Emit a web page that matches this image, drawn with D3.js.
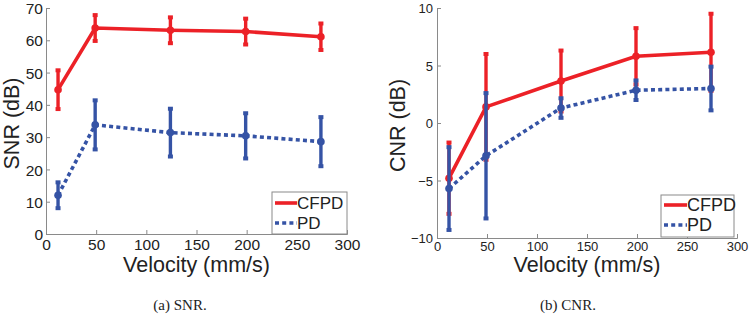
<!DOCTYPE html>
<html>
<head>
<meta charset="utf-8">
<script src="https://cdn.jsdelivr.net/npm/d3@7"></script>
<style>
  body { margin: 0; background: #fff; }
  text { font-family: "Liberation Sans", Arial, sans-serif; fill: #222; }
  text.caption { font-family: "Liberation Serif", "Times New Roman", serif; }
</style>
</head>
<body>
<div id="chart"></div>
<script>
// velocities (mm/s)
const velocity = [12, 49, 124, 199, 274];

// SNR (dB)
const snrCFPD = [44.7, 63.8, 63.1, 62.7, 61.1];
const snrCFPDErr = [6.0, 4.0, 4.0, 4.0, 4.1];
const snrPD = [12.0, 33.8, 31.4, 30.4, 28.6];
const snrPDErr = [4.0, 7.6, 7.4, 7.0, 7.6];

// CNR (dB)
const cnrCFPD = [-4.8, 1.4, 3.65, 5.8, 6.15];
const cnrCFPDErr = [3.1, 4.6, 2.65, 2.45, 3.35];
const cnrPD = [-5.7, -2.85, 1.3, 2.85, 3.0];
const cnrPDErr = [3.6, 5.45, 0.85, 0.85, 1.9];

const xTicks = [0, 50, 100, 150, 200, 250, 300];
const snrTicks = [0, 10, 20, 30, 40, 50, 60, 70];
const cnrTicks = [-10, -5, 0, 5, 10];

const red = "#ec2127";
const blue = "#3553a5";

const svg = d3.select("#chart")
    .append("svg")
    .attr("width", 750)
    .attr("height", 314);

function drawPanel(opts) {
    const xScale = d3.scaleLinear().domain([0, 300]).range([opts.left, opts.right]);
    const yScale = d3.scaleLinear().domain(opts.yDomain).range([opts.bottom, opts.top]);

    const g = svg.append("g");

    // axes
    const xAxis = d3.axisBottom(xScale).tickValues(xTicks).tickSize(-4).tickPadding(opts.xPad);
    const xg = g.append("g")
        .attr("transform", `translate(0,${opts.bottom})`)
        .call(xAxis);
    const yAxis = d3.axisLeft(yScale).tickValues(opts.yTicks).tickSize(-4).tickPadding(opts.yPad)
        .tickFormat(d => d < 0 ? "\u2212" + Math.abs(d) : d);
    const yg = g.append("g")
        .attr("transform", `translate(${opts.left},0)`)
        .call(yAxis);
    [xg, yg].forEach(a => {
        a.attr("font-family", null);
        a.select(".domain").attr("stroke", "#8a8a8a");
        a.selectAll(".tick line").attr("stroke", "#8a8a8a");
        a.selectAll(".tick text").attr("font-size", opts.tickFont).attr("fill", "#222");
    });
    xg.selectAll(".tick text").attr("dy", "0.72em");
    yg.selectAll(".tick text").attr("dy", "0.36em");

    // axis labels
    g.append("text")
        .attr("x", (opts.left + opts.right) / 2 + opts.xLabelShift)
        .attr("y", 272)
        .attr("text-anchor", "middle")
        .attr("font-size", 21.5)
        .text("Velocity (mm/s)");
    g.append("text")
        .attr("transform", `translate(${opts.yLabelX},${opts.yLabelY}) rotate(-90)`)
        .attr("text-anchor", "middle")
        .attr("dy", "0.36em")
        .attr("font-size", 21.5)
        .text(opts.yLabel);

    // caption
    g.append("text")
        .attr("class", "caption")
        .attr("x", opts.captionX)
        .attr("y", 310)
        .attr("text-anchor", "middle")
        .attr("font-size", 15)
        .text(opts.caption);

    const series = [
        { values: opts.cfpd, err: opts.cfpdErr, color: red, dash: null },
        { values: opts.pd, err: opts.pdErr, color: blue, dash: "4,3.2" }
    ];

    series.forEach(s => {
        const pts = velocity.map((v, i) => ({ x: v, y: s.values[i], e: s.err[i] }));
        const line = d3.line().x(d => xScale(d.x)).y(d => yScale(d.y));
        g.append("path")
            .datum(pts)
            .attr("d", line)
            .attr("fill", "none")
            .attr("stroke", s.color)
            .attr("stroke-width", 3.6)
            .attr("stroke-dasharray", s.dash);
        const eb = g.append("g");
        eb.selectAll("line.bar")
            .data(pts)
            .join("line")
            .attr("x1", d => xScale(d.x))
            .attr("x2", d => xScale(d.x))
            .attr("y1", d => yScale(d.y - d.e))
            .attr("y2", d => yScale(d.y + d.e))
            .attr("stroke", s.color)
            .attr("stroke-width", 3.4);
        ["top", "bot"].forEach(k => {
            eb.selectAll("rect." + k)
                .data(pts)
                .join("rect")
                .attr("x", d => xScale(d.x) - 2.5)
                .attr("y", d => yScale(k === "top" ? d.y + d.e : d.y - d.e) - 2)
                .attr("width", 5)
                .attr("height", 4)
                .attr("fill", s.color);
        });
        g.append("g").selectAll("circle")
            .data(pts)
            .join("circle")
            .attr("cx", d => xScale(d.x))
            .attr("cy", d => yScale(d.y))
            .attr("r", 3.8)
            .attr("fill", s.color);
    });

    // legend
    const L = opts.legend;
    const lg = g.append("g").attr("transform", `translate(${L.x},${L.y})`);
    lg.append("rect")
        .attr("width", L.w).attr("height", L.h)
        .attr("fill", "#fff").attr("stroke", "#8a8a8a").attr("stroke-width", 1);
    [["CFPD", red, null], ["PD", blue, "4,3.2"]].forEach((d, i) => {
        const y = L.row0 + i * 20;
        lg.append("line")
            .attr("x1", 3).attr("x2", L.lineEnd).attr("y1", y).attr("y2", y)
            .attr("stroke", d[1]).attr("stroke-width", 3.6)
            .attr("stroke-dasharray", d[2]);
        lg.append("text")
            .attr("x", L.lineEnd).attr("y", y).attr("dy", "0.36em")
            .attr("font-size", L.font)
            .text(d[0]);
    });
}

drawPanel({
    left: 46, right: 347, top: 8, bottom: 234,
    yDomain: [0, 70], yTicks: snrTicks, yLabel: "SNR (dB)",
    cfpd: snrCFPD, cfpdErr: snrCFPDErr, pd: snrPD, pdErr: snrPDErr,
    tickFont: 15.5, xPad: 5, yPad: 3,
    xLabelShift: 0, yLabelX: 11.5, yLabelY: 123.5,
    legend: { x: 272, y: 192, w: 75, h: 42, row0: 11, lineEnd: 25, font: 17 },
    caption: "(a)  SNR.", captionX: 180
});

drawPanel({
    left: 437, right: 737, top: 8, bottom: 238,
    yDomain: [-10, 10], yTicks: cnrTicks, yLabel: "CNR (dB)",
    cfpd: cnrCFPD, cfpdErr: cnrCFPDErr, pd: cnrPD, pdErr: cnrPDErr,
    tickFont: 13, xPad: 4, yPad: 4,
    xLabelShift: 0, yLabelX: 397, yLabelY: 125.5,
    legend: { x: 661, y: 195, w: 73, h: 42, row0: 10, lineEnd: 26, font: 18 },
    caption: "(b)  CNR.", captionX: 568
});
</script>
</body>
</html>
